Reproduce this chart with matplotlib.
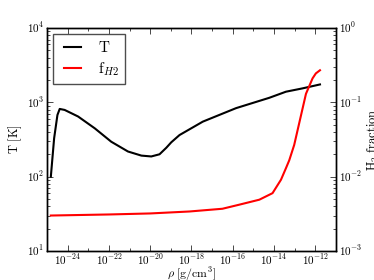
import numpy as np
import matplotlib
matplotlib.use('Agg')
import matplotlib.pyplot as plt
from matplotlib.ticker import NullFormatter, LogLocator, FuncFormatter

plt.style.use('classic')
plt.rcParams['mathtext.fontset'] = 'cm'
plt.rcParams['font.family'] = 'serif'
plt.rcParams['font.serif'] = ['cmr10', 'DejaVu Serif']

# temperature curve, log10(rho) vs T
logrho_T = [-24.82, -24.66, -24.50, -24.39, -24.15, -23.50, -22.69, -21.89,
            -21.08, -20.43, -19.95, -19.55, -19.22, -18.98, -18.58, -17.45,
            -15.84, -14.23, -13.42, -12.62, -11.77]
T = [100, 329, 676, 815, 790, 645, 447, 295,
     218, 192, 187, 200, 245, 290, 363, 550,
     835, 1150, 1390, 1540, 1740]

# H2 fraction curve
logrho_f = [-24.82, -22.0, -20.0, -18.1, -16.5, -15.68, -14.71, -14.07,
            -13.66, -13.42, -13.26, -13.02, -12.78, -12.45, -12.13, -11.97, -11.77]
fH2 = [0.0030, 0.0031, 0.0032, 0.0034, 0.0037, 0.0042, 0.0049, 0.0060,
       0.0091, 0.0130, 0.0166, 0.0267, 0.052, 0.13, 0.21, 0.245, 0.27]

fig = plt.figure(figsize=(3.74, 2.8), dpi=100, facecolor='white')
ax = fig.add_axes([0.126, 0.1036, 0.772, 0.7964])
ax2 = ax.twinx()

l1, = ax.plot(10**np.array(logrho_T), T, color='k', lw=1.5)
l2, = ax2.plot(10**np.array(logrho_f), fH2, color='r', lw=1.5)

ax.set_xscale('log')
ax.set_yscale('log')
ax2.set_yscale('log')
ax.set_xlim(1e-25, 1e-11)
ax.set_ylim(10, 1e4)
ax2.set_ylim(1e-3, 1)

ax.set_xticks([10.0**k for k in range(-24, -11, 2)])
ax.set_xticks([10.0**k for k in range(-25, -10, 2)], minor=True)
ax.xaxis.set_minor_formatter(NullFormatter())

pow10 = FuncFormatter(lambda v, p: r'$10^{%d}$' % int(round(np.log10(v))))
ax.xaxis.set_major_formatter(pow10)
for a in (ax, ax2):
    a.yaxis.set_major_locator(LogLocator(base=10))
    a.yaxis.set_major_formatter(pow10)
    a.yaxis.set_minor_locator(LogLocator(subs=np.arange(2, 10)))
    a.yaxis.set_minor_formatter(NullFormatter())
    a.tick_params(labelsize=8, direction='in', pad=2)
    a.tick_params(which='major', length=4)
    a.tick_params(which='minor', length=2)
ax.tick_params(axis='x', pad=1)

ax.set_xlabel(r'$\rho\ \mathrm{[g/cm^3]}$', fontsize=8.5, labelpad=-1)
ax.set_ylabel(r'$\mathrm{T\ [K]}$', fontsize=9, labelpad=2)
ax2.set_ylabel(r'$\mathrm{H_2\ fraction}$', fontsize=9, labelpad=3)

leg = ax.legend([l1, l2], [r'$\mathrm{T}$', r'$\mathrm{f}_{H2}$'], loc='upper left',
                fontsize=11, fancybox=False, handlelength=1.7, labelspacing=0.35,
                borderaxespad=0.4, handletextpad=0.8)
leg.get_frame().set_edgecolor('0.3')

fig.savefig('out.png', dpi=100, facecolor='white')
